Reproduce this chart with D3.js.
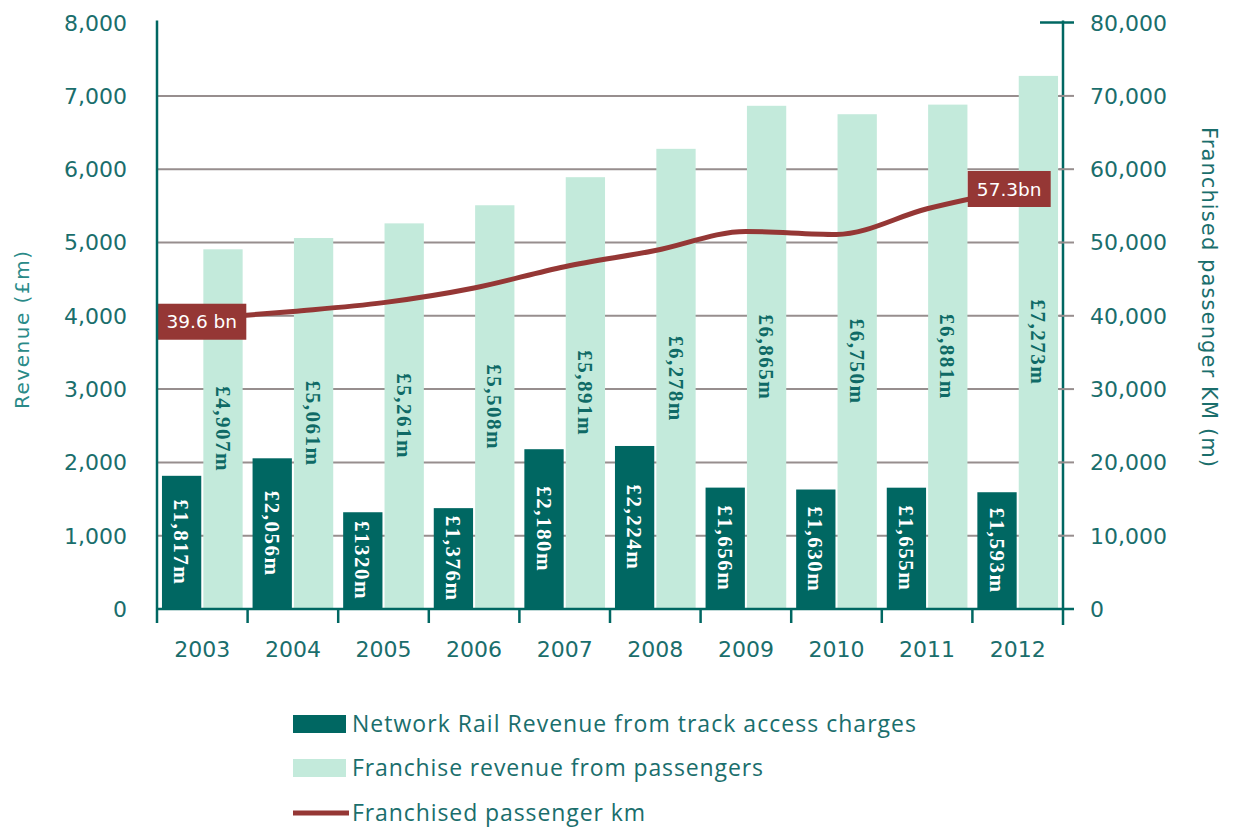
<!DOCTYPE html>
<html>
<head>
<meta charset="utf-8">
<script src="https://cdn.jsdelivr.net/npm/d3@7"></script>
<style>
	body { margin: 0; background: #fff; }
	svg { display: block; }
</style>
</head>
<body>
<svg id="chart" width="1235" height="828"></svg>
<script>

// data
let years = ['2003', '2004', '2005', '2006', '2007', '2008', '2009', '2010', '2011', '2012'];
let trackAccess = [1817, 2056, 1320, 1376, 2180, 2224, 1656, 1630, 1655, 1593];
let trackLabels = ['£1,817m', '£2,056m', '£1320m', '£1,376m', '£2,180m', '£2,224m', '£1,656m', '£1,630m', '£1,655m', '£1,593m'];
let franchiseRev = [4907, 5061, 5261, 5508, 5891, 6278, 6865, 6750, 6881, 7273];
let franchiseLabels = ['£4,907m', '£5,061m', '£5,261m', '£5,508m', '£5,891m', '£6,278m', '£6,865m', '£6,750m', '£6,881m', '£7,273m'];
let passengerKm = [39600, 40600, 41800, 43800, 46700, 48900, 51500, 51100, 54600, 57300];
let leftTicks = [0, 1000, 2000, 3000, 4000, 5000, 6000, 7000, 8000];
let rightTicks = [0, 10000, 20000, 30000, 40000, 50000, 60000, 70000, 80000];
let legendItems = ['Network Rail Revenue from track access charges', 'Franchise revenue from passengers', 'Franchised passenger km'];

let darkTeal = '#006762';
let lightTeal = '#c3eadb';
let textTeal = '#1a6e6c';
let lineRed = '#953735';
let gridGrey = '#978e8e';

let svg = d3.select('#chart');
let plotLeft = 157, plotRight = 1063, plotTop = 22.6, plotBottom = 609;

let xScale = d3.scaleBand().domain(years).range([plotLeft, plotRight]);
let subScale = d3.scaleBand().domain(['track', 'franchise'])
	.range([0, xScale.bandwidth()])
	.paddingInner(0.05)
	.paddingOuter(0.12);
let yLeft = d3.scaleLinear().domain([0, 8000]).range([plotBottom, plotTop]);
let yRight = d3.scaleLinear().domain([0, 80000]).range([plotBottom, plotTop]);

// gridlines
svg.append('g')
	.selectAll('line')
	.data(leftTicks.filter(d => d > 0 && d < 8000))
	.join('line')
	.attr('x1', plotLeft).attr('x2', plotRight)
	.attr('y1', d => yLeft(d)).attr('y2', d => yLeft(d))
	.attr('stroke', gridGrey)
	.attr('stroke-width', 2);

// bars
let groups = svg.append('g')
	.selectAll('g')
	.data(years)
	.join('g')
	.attr('transform', d => `translate(${xScale(d)},0)`);

groups.append('rect')
	.attr('x', subScale('track'))
	.attr('width', subScale.bandwidth())
	.attr('y', (d, i) => yLeft(trackAccess[i]))
	.attr('height', (d, i) => plotBottom - yLeft(trackAccess[i]))
	.attr('fill', darkTeal);

groups.append('rect')
	.attr('x', subScale('franchise'))
	.attr('width', subScale.bandwidth())
	.attr('y', (d, i) => yLeft(franchiseRev[i]))
	.attr('height', (d, i) => plotBottom - yLeft(franchiseRev[i]))
	.attr('fill', lightTeal);

// rotated bar labels
function barLabel(key, values, labels, color) {
	groups.append('text')
		.attr('transform', (d, i) => {
			let cx = subScale(key) + subScale.bandwidth() / 2;
			let cy = (yLeft(values[i]) + plotBottom) / 2;
			return `translate(${cx},${cy}) rotate(90)`;
		})
		.attr('text-anchor', 'middle')
		.attr('dy', '0.35em')
		.attr('font-family', '"Liberation Serif", serif')
		.attr('font-weight', 'bold')
		.attr('font-size', 21)
		.attr('letter-spacing', 1.5)
		.attr('fill', color)
		.text((d, i) => labels[i]);
}
barLabel('track', trackAccess, trackLabels, '#ffffff');
barLabel('franchise', franchiseRev, franchiseLabels, '#0f6a66');

// passenger km line
let lineGen = d3.line()
	.x((d, i) => xScale(years[i]) + xScale.bandwidth() / 2)
	.y(d => yRight(d))
	.curve(d3.curveMonotoneX);

svg.append('path')
	.attr('d', lineGen(passengerKm))
	.attr('fill', 'none')
	.attr('stroke', lineRed)
	.attr('stroke-width', 5);

// end labels on the line
function lineTag(i, text, w, dx, dy) {
	let px = xScale(years[i]) + xScale.bandwidth() / 2;
	let py = yRight(passengerKm[i]);
	let g = svg.append('g').attr('transform', `translate(${px + dx},${py + dy})`);
	g.append('rect')
		.attr('x', -w / 2).attr('y', -18)
		.attr('width', w).attr('height', 36)
		.attr('fill', lineRed);
	g.append('text')
		.attr('text-anchor', 'middle')
		.attr('dy', '0.36em')
		.attr('font-family', '"DejaVu Sans", sans-serif')
		.attr('font-size', 18.5)
		.attr('fill', '#fff')
		.text(text);
}
lineTag(0, '39.6 bn', 89, -0.5, 3);
lineTag(9, '57.3bn', 83, -8.5, 0);

// axes lines
let axes = svg.append('g').attr('stroke', darkTeal).attr('stroke-width', 2.5);
axes.append('line').attr('x1', plotLeft).attr('x2', plotLeft).attr('y1', plotTop - 2).attr('y2', plotBottom + 14);
axes.append('line').attr('x1', plotRight).attr('x2', plotRight).attr('y1', plotTop - 2).attr('y2', plotBottom + 16);
axes.append('line').attr('x1', plotLeft).attr('x2', plotRight + 11).attr('y1', plotBottom).attr('y2', plotBottom);
axes.append('line').attr('x1', plotRight - 23).attr('x2', plotRight + 11).attr('y1', yRight(80000)).attr('y2', yRight(80000));

// x ticks at band edges
svg.append('g')
	.selectAll('line')
	.data(years.slice(1))
	.join('line')
	.attr('x1', d => xScale(d)).attr('x2', d => xScale(d))
	.attr('y1', plotBottom).attr('y2', plotBottom + 14)
	.attr('stroke', darkTeal)
	.attr('stroke-width', 2.5);

// right ticks
svg.append('g')
	.selectAll('line')
	.data(rightTicks.filter(d => d > 0 && d < 80000))
	.join('line')
	.attr('x1', plotRight - 4).attr('x2', plotRight + 11)
	.attr('y1', d => yRight(d)).attr('y2', d => yRight(d))
	.attr('stroke', gridGrey)
	.attr('stroke-width', 2);

let tickFont = '"DejaVu Sans", Verdana, sans-serif';
let fmt = d3.format(',');

svg.append('g')
	.selectAll('text')
	.data(leftTicks)
	.join('text')
	.attr('x', 127)
	.attr('y', d => yLeft(d))
	.attr('dy', '0.36em')
	.attr('text-anchor', 'end')
	.attr('font-family', tickFont)
	.attr('font-size', 22)
	.attr('fill', textTeal)
	.text(d => fmt(d));

svg.append('g')
	.selectAll('text')
	.data(rightTicks)
	.join('text')
	.attr('x', 1090)
	.attr('y', d => yRight(d))
	.attr('dy', '0.36em')
	.attr('font-family', tickFont)
	.attr('font-size', 22)
	.attr('fill', textTeal)
	.text(d => fmt(d));

svg.append('g')
	.selectAll('text')
	.data(years)
	.join('text')
	.attr('x', d => xScale(d) + xScale.bandwidth() / 2)
	.attr('y', 657)
	.attr('text-anchor', 'middle')
	.attr('font-family', tickFont)
	.attr('font-size', 22)
	.attr('fill', textTeal)
	.text(d => d);

// axis titles
svg.append('text')
	.attr('transform', 'translate(22,330) rotate(-90)')
	.attr('text-anchor', 'middle')
	.attr('dy', '0.36em')
	.attr('font-family', tickFont)
	.attr('font-size', 20)
	.attr('textLength', 158)
	.attr('fill', '#2a8a88')
	.text('Revenue (£m)');

svg.append('text')
	.attr('transform', 'translate(1210,297) rotate(90)')
	.attr('text-anchor', 'middle')
	.attr('dy', '0.36em')
	.attr('font-family', tickFont)
	.attr('font-size', 21)
	.attr('textLength', 340)
	.attr('fill', textTeal)
	.text('Franchised passenger KM (m)');

// legend
let legendY = [724, 768, 813];
let legendW = [564, 411, 293];
let legend = svg.append('g');
legend.append('rect').attr('x', 293).attr('y', legendY[0] - 9).attr('width', 53).attr('height', 18).attr('fill', darkTeal);
legend.append('rect').attr('x', 293).attr('y', legendY[1] - 9).attr('width', 53).attr('height', 18).attr('fill', lightTeal);
legend.append('line').attr('x1', 293).attr('x2', 349).attr('y1', legendY[2]).attr('y2', legendY[2])
	.attr('stroke', lineRed).attr('stroke-width', 5);
legend.selectAll('text')
	.data(legendItems)
	.join('text')
	.attr('x', 352)
	.attr('y', (d, i) => legendY[i])
	.attr('dy', '0.35em')
	.attr('font-family', '"Open Sans", sans-serif')
	.attr('font-size', 23)
	.attr('textLength', (d, i) => legendW[i])
	.attr('fill', textTeal)
	.text(d => d);

</script>
</body>
</html>
